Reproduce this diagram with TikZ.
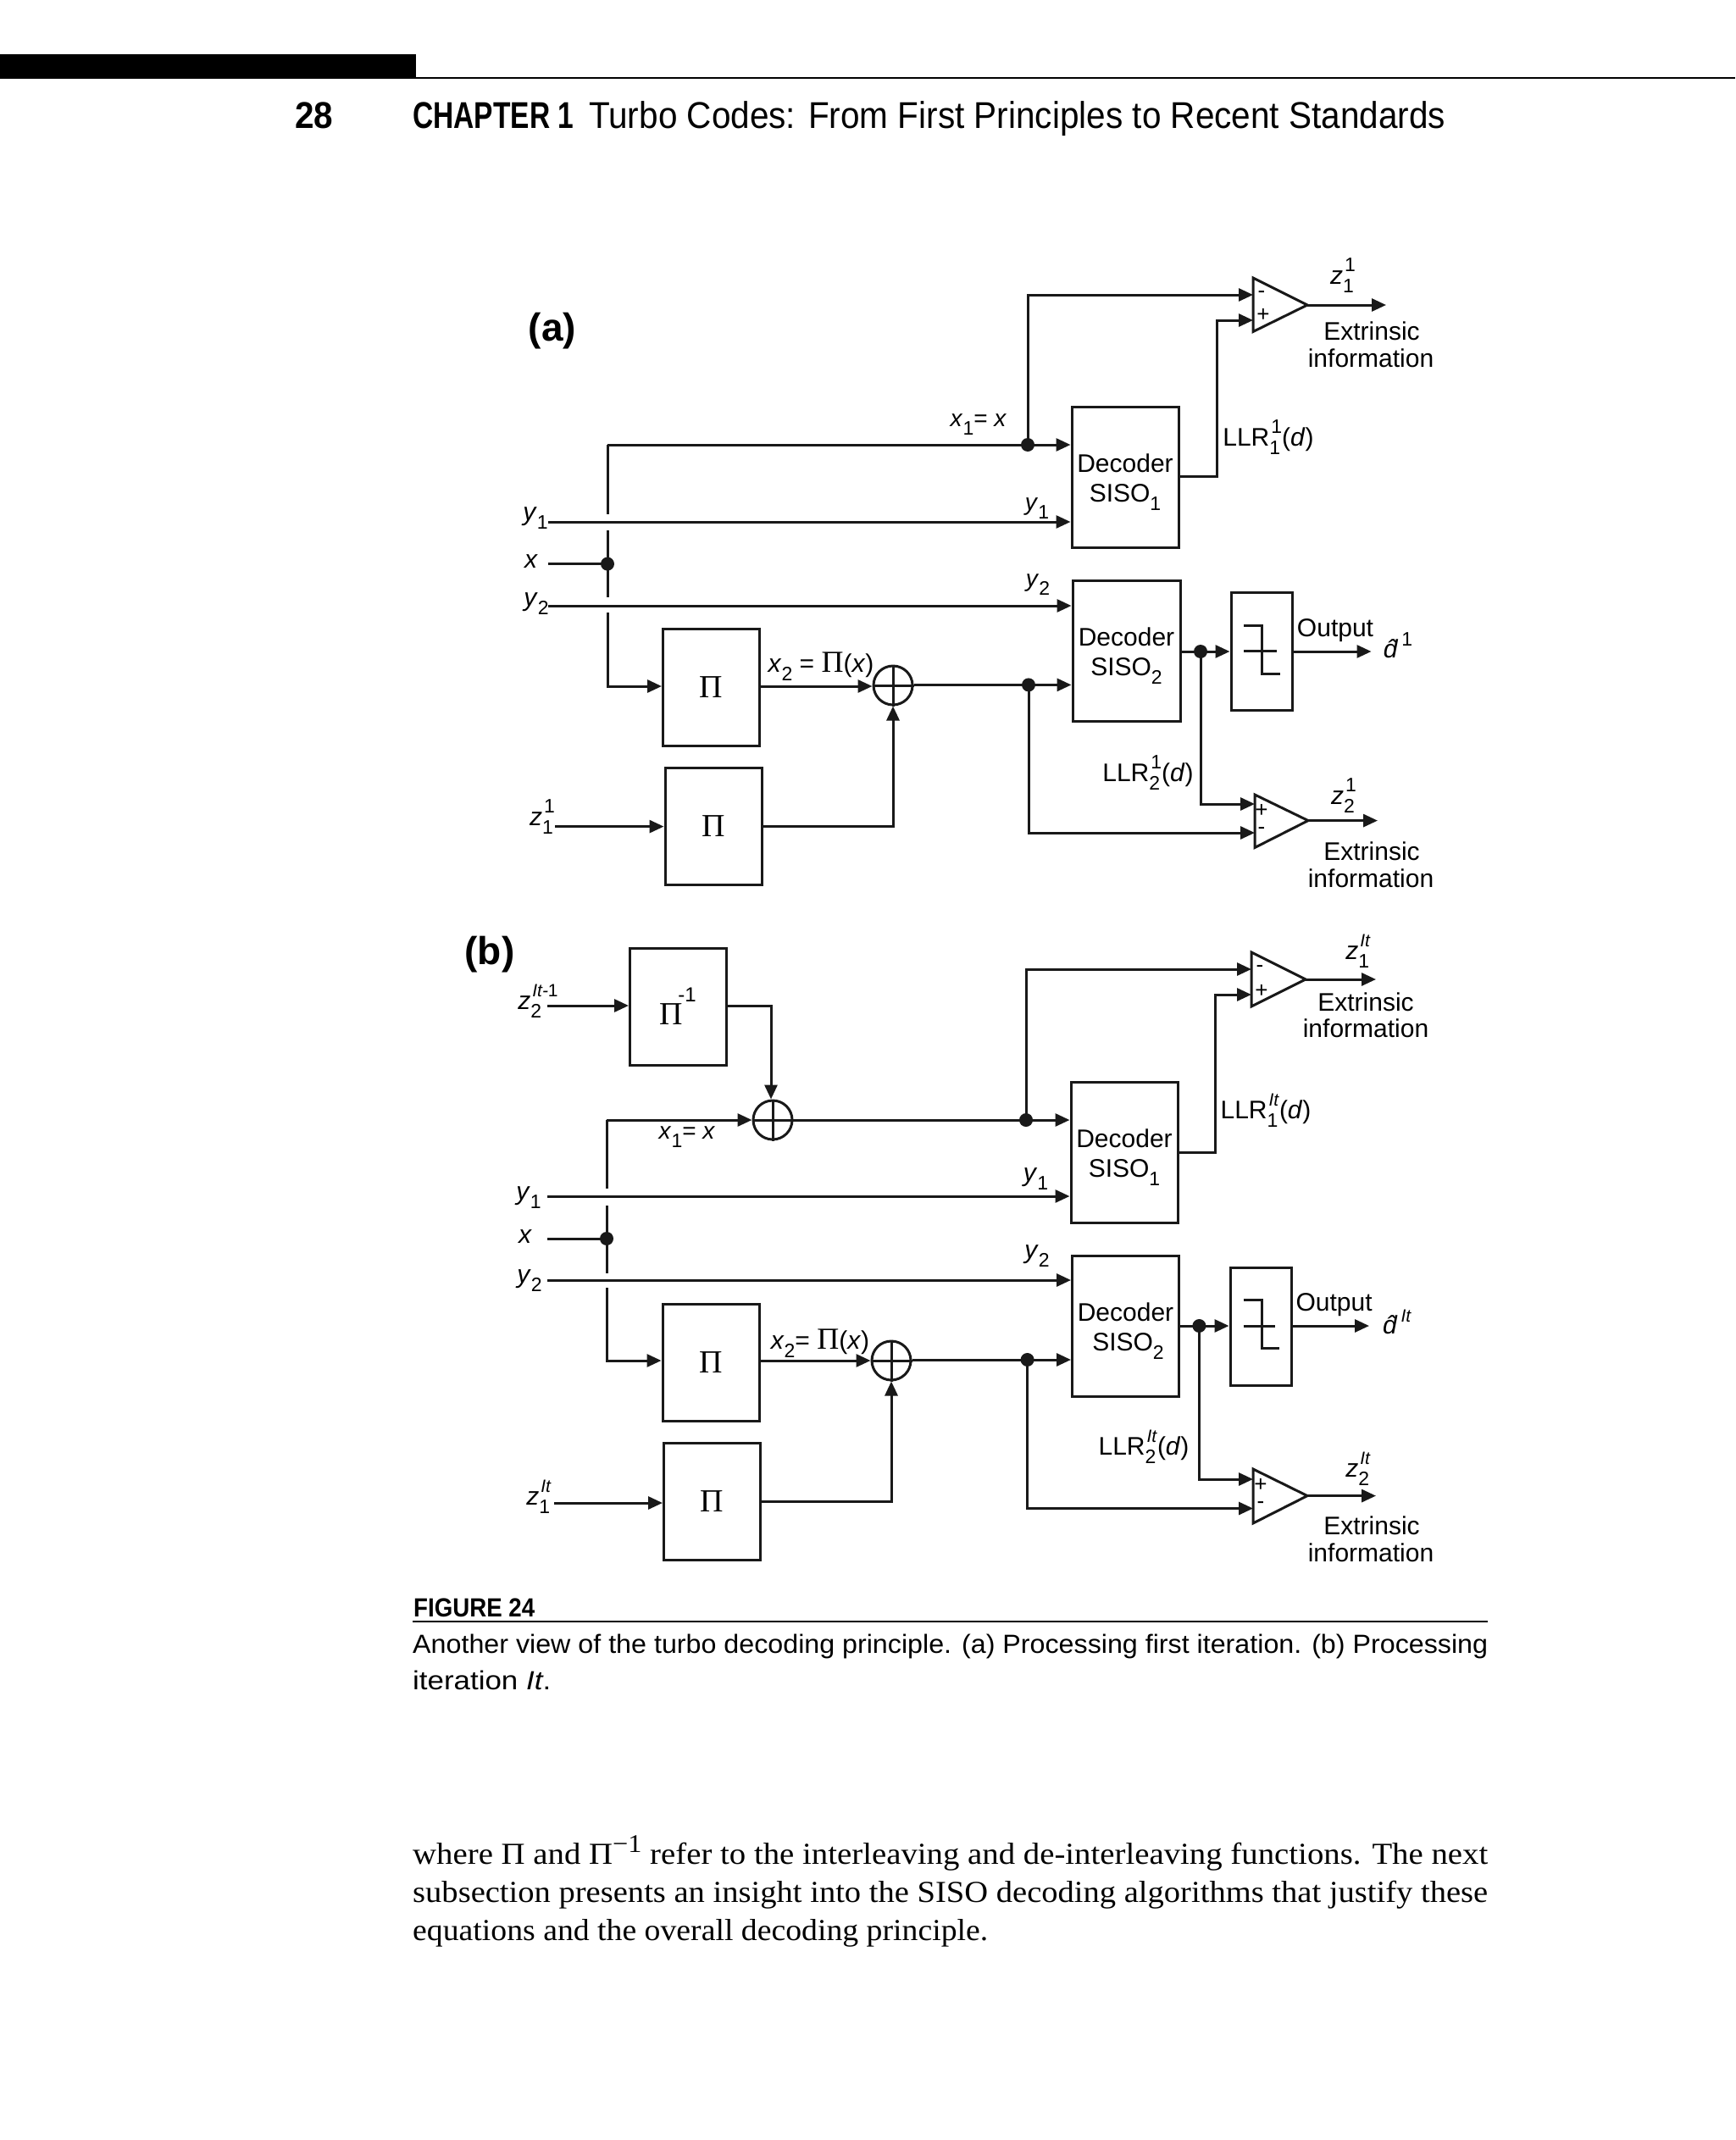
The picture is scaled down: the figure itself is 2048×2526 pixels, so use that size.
\documentclass[tikz,border=0pt]{standalone}
\usepackage{fontspec}
\setmainfont{Liberation Sans}
\newfontfamily\srf{Liberation Serif}
\usetikzlibrary{arrows.meta,calc}
\newcommand\fsz[1]{\fontsize{#1}{#1}\selectfont}
\newcommand\subsup[2]{\makebox[0pt][l]{\raisebox{-10pt}{\fsz{23}#1}}\kern2pt\raisebox{15pt}{\fsz{23}#2}}
\newcommand\lsub[1]{\raisebox{-10pt}{\fsz{23}#1}}
\newcommand\itz{\textit{\fsz{21}It}}
\newcommand\dstrut{\rule{0pt}{33pt}}
\newsavebox\fitbox
\newcommand\fitw[2]{\sbox\fitbox{#2}\pgfmathsetmacro\fitr{#1/\the\wd\fitbox}\scalebox{\fitr}[1]{\usebox\fitbox}}
\tikzset{
  x=1pt,y=-1pt,
  wire/.style={line width=3pt,black!90},
  arr/.style={wire,-{Triangle[length=17pt,width=15pt]}},
  sisoblk/.style={draw=black!90,line width=3pt,inner sep=0pt,minimum width=126pt,minimum height=166pt,align=center,font=\fontsize{30}{35}\selectfont},
  piblk/.style={draw=black!90,line width=3pt,inner sep=0pt,minimum width=114pt,minimum height=138pt,font=\srf\fsz{38}},
  slicer/.style={draw=black!90,line width=3pt,inner sep=0pt,minimum width=72pt,minimum height=139pt},
  xorc/.style={circle,draw=black!90,line width=3pt,inner sep=0pt,minimum size=46pt},
  jdot/.style={circle,fill=black!90,inner sep=0pt,minimum size=16pt},
  lbl/.style={inner sep=0pt,font=\fsz{30}},
  sml/.style={inner sep=0pt,font=\fsz{28}},
  big/.style={inner sep=0pt,font=\bfseries\fsz{46}},
  pm/.style={inner sep=0pt,font=\fsz{26}},
  hdr/.style={inner sep=0pt,anchor=base west,font=\fsz{44}},
  captxt/.style={inner sep=0pt,anchor=base west,font=\fsz{31}},
  bodytxt/.style={inner sep=0pt,anchor=base west,font=\srf\fsz{36}},
  rulep/.style={line width=2pt,black},
  tri/.style={line width=3pt,draw=black!90}
}
\begin{document}
\begin{tikzpicture}
\useasboundingbox[fill=white] (0,0) rectangle (2048,2526);
% ---------- header
\fill[black] (0,64) rectangle (491,93);
\coordinate (hl) at (491,92);
\coordinate (hr) at (2048,92);
\draw[rulep] (hl) -- (hr);
\node[hdr] (pg) at (348,152) {\fitw{45}{\bfseries 28}};
\node[hdr] (ch) at (487,152) {\fitw{190}{\bfseries CHAPTER 1}};
\node[hdr] (ti) at (695,152) {\fitw{1011}{Turbo Codes: From First Principles to Recent Standards}};
% ---------- panel (a)
\node[big] (la) at (652,391) {(a)};
\node[sisoblk] (da1) at (1328,563) {\dstrut Decoder\\SISO\lsub{1}};
\node[sisoblk,minimum width=127pt] (da2) at (1329.5,768) {\dstrut Decoder\\SISO\lsub{2}};
\node[slicer] (sa) at (1489,768.5) {};
\node[piblk] (pa1) at (839.5,811) {Π};
\node[piblk] (pa2) at (842,975.5) {Π};
\node[xorc] (xa) at (1054,809) {};
\draw[wire] (xa.north) -- (xa.south) (xa.west) -- (xa.east);
\node[jdot] (ja1) at (1213,525) {};
\node[jdot] (ja2) at (717,665.6) {};
\node[jdot] (ja3) at (1214,808.4) {};
\node[jdot] (ja4) at (1417,769) {};
% triangles (a)
\coordinate (ta1a) at (1479,328); \coordinate (ta1b) at (1479,391.5); \coordinate (ta1c) at (1543,360);
\draw[tri] (ta1a) -- (ta1b) -- (ta1c) -- cycle;
\coordinate (ta1p) at (1479,348); \coordinate (ta1q) at (1479,378);
\coordinate (ta2a) at (1481,938); \coordinate (ta2b) at (1481,1000.5); \coordinate (ta2c) at (1544,968.6);
\draw[tri] (ta2a) -- (ta2b) -- (ta2c) -- cycle;
\coordinate (ta2p) at (1481,949); \coordinate (ta2q) at (1481,983);
% free ends (a)
\coordinate (oa1) at (1636,360); \coordinate (oa2) at (1626,968.6); \coordinate (oa3) at (1618.5,769);
\coordinate (iy1a) at (647,616); \coordinate (ixa) at (647,665.6); \coordinate (iy2a) at (647,715); \coordinate (iza) at (655,975.6);
\coordinate (ca) at (717,525);
\coordinate (g1a) at (717,607); \coordinate (g1b) at (717,626); \coordinate (g2a) at (717,705); \coordinate (g2b) at (717,723);
\coordinate (cb) at (717,810);
\coordinate (cc) at (1436,562.6);
% wires (a)
\draw[arr] (ca) -- (ja1.center) -- (da1.west |- ja1);
\draw[wire] (ca) -- (g1a) (g1b) -- (g2a);
\draw[arr] (g2b) -- (cb) -- (pa1.west |- cb);
\draw[arr] (ja1.center) |- (ta1p);
\draw[arr] (da1.east |- cc) -- (cc) |- (ta1q);
\draw[arr] (ta1c) -- (oa1);
\draw[arr] (iy1a) -- (da1.west |- iy1a);
\draw[wire] (ixa) -- (ja2.center);
\draw[arr] (iy2a) -- (da2.west |- iy2a);
\draw[arr] (pa1.east |- cb) -- (xa.west |- cb);
\draw[arr] (xa.east |- ja3) -- (da2.west |- ja3);
\draw[arr] (pa2.east) -| (xa.south);
\draw[arr] (iza) -- (pa2.west |- iza);
\draw[arr] (da2.east |- ja4) -- (sa.west |- ja4);
\draw[arr] (sa.east |- oa3) -- (oa3);
\draw[arr] (ja4.center) |- (ta2p);
\draw[arr] (ja3.center) |- (ta2q);
\draw[arr] (ta2c) -- (oa2);
% slicer glyph (a)
\coordinate (sga) at (1468,738); \coordinate (sgb) at (1489,738); \coordinate (sgc) at (1489,795.5); \coordinate (sgd) at (1511,795.5);
\coordinate (sge) at (1468,768); \coordinate (sgf) at (1507,768);
\draw[wire] (sga) -- (sgb) -- (sgc) -- (sgd) (sge) -- (sgf);
% labels (a)
\node[lbl] (a1) at (1585,325) {\textit{z}\subsup{1}{1}};
\node[lbl] (a2) at (1619,391) {Extrinsic};
\node[lbl] (a3) at (1618,423) {information};
\node[sml] (a4) at (1155,501) {\textit{x}\lsub{1}= \textit{x}};
\node[lbl] (a5) at (1497,516) {LLR\subsup{1}{1}(\textit{d})};
\node[lbl] (a6) at (632,612) {\textit{y}\lsub{1}};
\node[sml] (a7) at (1224,600) {\textit{y}\lsub{1}};
\node[lbl] (a8) at (627,663) {\textit{x}};
\node[lbl] (a9) at (633,713) {\textit{y}\lsub{2}};
\node[sml] (a10) at (1225,690) {\textit{y}\lsub{2}};
\node[lbl] (a11) at (1576,744) {Output};
\node[lbl] (a12) at (1650,762) {\textit{\^{d}}\raisebox{14pt}{\fsz{23}1}};
\node[lbl] (a13) at (969,787) {\textit{x}\lsub{2} = {\srf\fsz{36}Π}(\textit{x})};
\node[lbl] (a14) at (640,964) {\textit{z}\subsup{1}{1}};
\node[lbl] (a15) at (1355,912) {LLR\subsup{2}{1}(\textit{d})};
\node[lbl] (a16) at (1586,939) {\textit{z}\subsup{2}{1}};
\node[lbl] (a17) at (1619,1005) {Extrinsic};
\node[lbl] (a18) at (1618,1037) {information};
\node[pm] (a19) at (1489,348) {-};
\node[pm] (a20) at (1491,372) {+};
\node[pm] (a21) at (1489,957) {+};
\node[pm] (a22) at (1489,981) {-};
% ---------- panel (b)
\node[big] (lb) at (578,1127) {(b)};
\node[sisoblk] (db1) at (1327,1360) {\dstrut Decoder\\SISO\lsub{1}};
\node[sisoblk] (db2) at (1328.5,1565) {\dstrut Decoder\\\kern6pt SISO\lsub{2}};
\node[slicer] (sb) at (1488,1565.5) {};
\node[piblk] (pb0) at (800.5,1188) {};
\node[piblk] (pb1) at (839,1608) {Π};
\node[piblk] (pb2) at (840.5,1772.5) {Π};
\node[inner sep=0pt,font=\srf\fsz{38}] (pb0t) at (792,1197) {Π};
\node[inner sep=0pt,font=\fsz{24}] (pb0s) at (811,1174.5) {-1};
\node[xorc] (xb1) at (912,1322) {};
\draw[wire] (xb1.north) -- (xb1.south) (xb1.west) -- (xb1.east);
\node[xorc] (xb2) at (1052,1606) {};
\draw[wire] (xb2.north) -- (xb2.south) (xb2.west) -- (xb2.east);
\node[jdot] (jb1) at (1211,1322) {};
\node[jdot] (jb2) at (716,1462) {};
\node[jdot] (jb3) at (1212.6,1605) {};
\node[jdot] (jb4) at (1415.4,1565) {};
% triangles (b)
\coordinate (tb1a) at (1477,1124); \coordinate (tb1b) at (1477,1188); \coordinate (tb1c) at (1541,1156);
\draw[tri] (tb1a) -- (tb1b) -- (tb1c) -- cycle;
\coordinate (tb1p) at (1477,1144); \coordinate (tb1q) at (1477,1174);
\coordinate (tb2a) at (1479,1734); \coordinate (tb2b) at (1479,1798); \coordinate (tb2c) at (1543,1765.6);
\draw[tri] (tb2a) -- (tb2b) -- (tb2c) -- cycle;
\coordinate (tb2p) at (1479,1746); \coordinate (tb2q) at (1479,1780.5);
% free ends (b)
\coordinate (ob1) at (1624,1156); \coordinate (ob2) at (1624,1765.6); \coordinate (ob3) at (1616,1565);
\coordinate (iz2b) at (646,1187); \coordinate (iy1b) at (646,1412); \coordinate (ixb) at (646,1462); \coordinate (iy2b) at (646,1511); \coordinate (izb) at (654,1774);
\coordinate (cd) at (716,1322);
\coordinate (g3a) at (716,1403); \coordinate (g3b) at (716,1423); \coordinate (g4a) at (716,1503); \coordinate (g4b) at (716,1520);
\coordinate (ce) at (716,1606);
\coordinate (cf) at (1434.5,1360);
\coordinate (cg) at (910,1187);
% wires (b)
\draw[arr] (iz2b) -- (pb0.west |- iz2b);
\draw[arr] (pb0.east |- cg) -- (cg) -- (cg |- xb1.north);
\draw[arr] (cd) -- (xb1.west |- cd);
\draw[wire] (cd) -- (g3a) (g3b) -- (g4a);
\draw[arr] (g4b) -- (ce) -- (pb1.west |- ce);
\draw[arr] (xb1.east) -- (db1.west |- xb1);
\draw[arr] (jb1.center) |- (tb1p);
\draw[arr] (db1.east |- cf) -- (cf) |- (tb1q);
\draw[arr] (tb1c) -- (ob1);
\draw[arr] (iy1b) -- (db1.west |- iy1b);
\draw[wire] (ixb) -- (jb2.center);
\draw[arr] (iy2b) -- (db2.west |- iy2b);
\draw[arr] (pb1.east |- ce) -- (xb2.west |- ce);
\draw[arr] (xb2.east |- jb3) -- (db2.west |- jb3);
\draw[arr] (pb2.east) -| (xb2.south);
\draw[arr] (izb) -- (pb2.west |- izb);
\draw[arr] (db2.east |- jb4) -- (sb.west |- jb4);
\draw[arr] (sb.east |- ob3) -- (ob3);
\draw[arr] (jb4.center) |- (tb2p);
\draw[arr] (jb3.center) |- (tb2q);
\draw[arr] (tb2c) -- (ob2);
% slicer glyph (b)
\coordinate (shga) at (1467.5,1534); \coordinate (shgb) at (1489,1534); \coordinate (shgc) at (1489,1591.5); \coordinate (shgd) at (1510,1591.5);
\coordinate (shge) at (1467.5,1565); \coordinate (shgf) at (1505,1565);
\draw[wire] (shga) -- (shgb) -- (shgc) -- (shgd) (shge) -- (shgf);
% labels (b)
\node[lbl] (b0) at (635,1182) {\textit{z}\subsup{2}{\textit{\fsz{21}It-}\fsz{21}1}};
\node[lbl] (b1) at (1603,1123) {\textit{z}\subsup{1}{\itz}};
\node[lbl] (b2) at (1612,1183) {Extrinsic};
\node[lbl] (b3) at (1612,1214) {information};
\node[sml] (b4) at (811,1342) {\textit{x}\lsub{1}= \textit{x}};
\node[lbl] (b5) at (1494,1311) {LLR\subsup{1}{\itz}(\textit{d})};
\node[lbl] (b6) at (624,1414) {\textit{y}\lsub{1}};
\node[lbl] (b7) at (1222.5,1392) {\textit{y}\lsub{1}};
\node[lbl] (b8) at (620,1460) {\textit{x}};
\node[lbl] (b9) at (625,1512) {\textit{y}\lsub{2}};
\node[lbl] (b10) at (1224,1483) {\textit{y}\lsub{2}};
\node[lbl] (b11) at (1574.6,1540) {Output};
\node[lbl] (b12) at (1649,1560) {\textit{\^{d}}\raisebox{14pt}{\itz}};
\node[lbl] (b13) at (968,1586) {\textit{x}\lsub{2}= {\srf\fsz{36}Π}(\textit{x})};
\node[lbl] (b14) at (636,1767) {\textit{z}\subsup{1}{\itz}};
\node[lbl] (b15) at (1350,1708) {LLR\subsup{2}{\itz}(\textit{d})};
\node[lbl] (b16) at (1603,1734) {\textit{z}\subsup{2}{\itz}};
\node[lbl] (b17) at (1619,1801) {Extrinsic};
\node[lbl] (b18) at (1618,1833) {information};
\node[pm] (b19) at (1487,1144) {-};
\node[pm] (b20) at (1489,1169.5) {+};
\node[pm] (b21) at (1488,1753) {+};
\node[pm] (b22) at (1488,1777) {-};
% ---------- caption
\node[captxt,font=\bfseries\fsz{31}] (fg) at (488,1908) {\fitw{143}{FIGURE 24}};
\coordinate (rl) at (487,1914); \coordinate (rr) at (1756,1914);
\draw[rulep] (rl) -- (rr);
\node[captxt] (c1) at (487,1951) {\fitw{1269}{Another view of the turbo decoding principle. (a) Processing first iteration. (b) Processing}};
\node[captxt] (c2) at (487,1994) {\fitw{163}{iteration \textit{It}.}};
% ---------- body
\node[bodytxt] (t1) at (487,2200.5) {\fitw{1269}{where Π and Π\raisebox{14pt}{\fsz{30}−1} refer to the interleaving and de-interleaving functions. The next}};
\node[bodytxt] (t2) at (487,2245.5) {\fitw{1269}{subsection presents an insight into the SISO decoding algorithms that justify these}};
\node[bodytxt] (t3) at (487,2290) {\fitw{679}{equations and the overall decoding principle.}};
\end{tikzpicture}
\end{document}
